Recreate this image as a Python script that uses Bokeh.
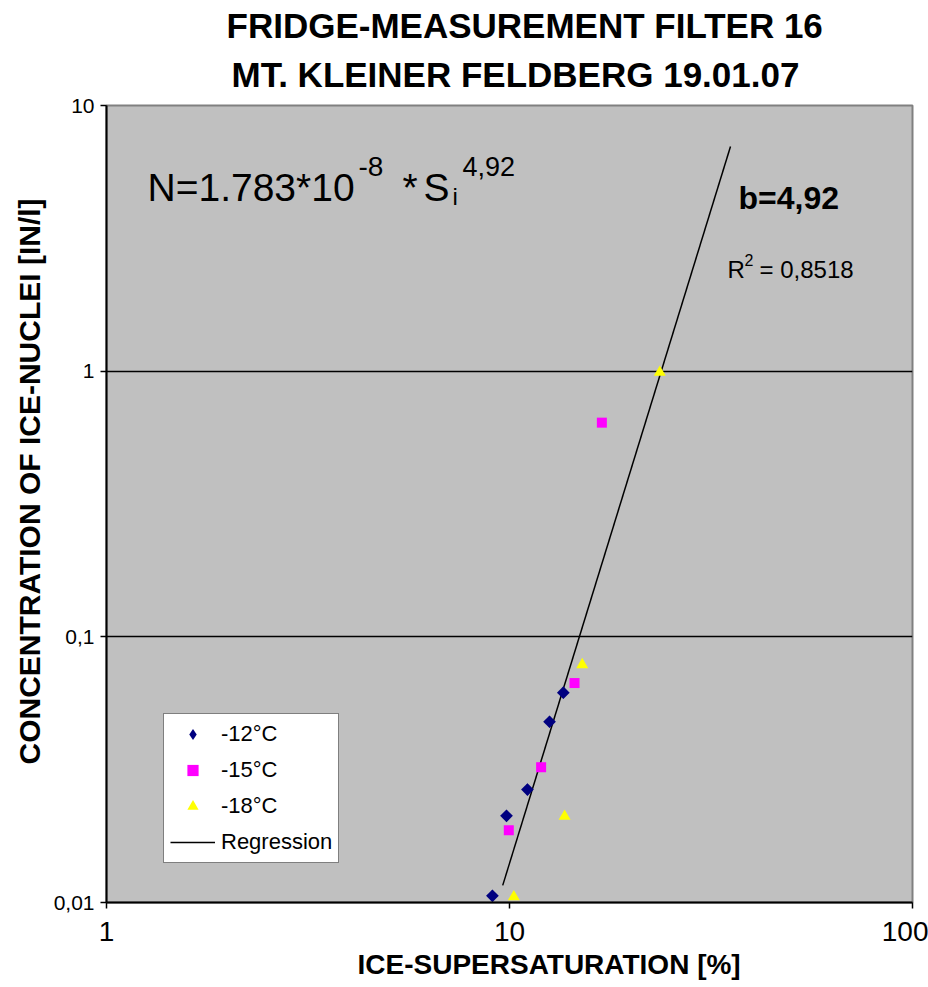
import numpy as np
from bokeh.plotting import figure
from bokeh.models import (Range1d, FixedTicker, CustomJSTickFormatter, Label, Title,
                          Legend, LegendItem)
from bokeh.embed import file_html
from bokeh.resources import INLINE

# ---- data ----
t12_x = [9.07, 9.83, 11.08, 12.57, 13.6]
t12_y = [0.0106, 0.0212, 0.0266, 0.0479, 0.0616]
t15_x = [9.96, 11.98, 14.5, 16.95]
t15_y = [0.0187, 0.0323, 0.067, 0.64]
t18_x = [10.25, 13.7, 15.15, 23.6]
t18_y = [0.0105, 0.0211, 0.0785, 0.99]
reg_x = [9.62, 35.35]
reg_y = [0.0116, 7.01]

x_ticks = [1, 10, 100]
y_ticks = [0.01, 0.1, 1, 10]
y_grid = [0.1, 1]

series_labels = ["-12°C", "-15°C", "-18°C", "Regression"]
title_lines = ["FRIDGE-MEASUREMENT FILTER 16", "MT. KLEINER FELDBERG 19.01.07"]
x_label = "ICE-SUPERSATURATION [%]"
y_label = "CONCENTRATION OF ICE-NUCLEI [IN/l]"

FONT = "Liberation Sans"

p = figure(width=928, height=987, x_axis_type="log", y_axis_type="log",
           x_range=Range1d(1, 100), y_range=Range1d(0.01, 10),
           output_backend="svg", toolbar_location=None,
           min_border_left=106, min_border_right=16, min_border_top=105,
           min_border_bottom=85)
p.title = None
p.background_fill_color = "#C0C0C0"
p.border_fill_color = "white"
p.outline_line_color = "#808080"
p.outline_line_width = 2

fmt = CustomJSTickFormatter(code="return String(tick).replace('.', ',');")
for ax, ticks, fs, so in ((p.xaxis, x_ticks, "28px", 13), (p.yaxis, y_ticks, "21px", 6)):
    ax.ticker = FixedTicker(ticks=ticks, minor_ticks=[])
    ax.formatter = fmt
    ax.major_label_text_font = FONT
    ax.major_label_text_font_size = fs
    ax.major_label_text_color = "black"
    ax.major_label_standoff = so
    ax.axis_line_color = "black"
    ax.axis_line_width = 2
    ax.major_tick_line_color = "black"
    ax.major_tick_line_width = 1.5
    ax.major_tick_in = 0
    ax.major_tick_out = 6

# chart title lines (first added sits closest to the frame)
p.add_layout(Title(text=title_lines[1], text_font=FONT, text_font_size="35px",
                   text_font_style="bold", text_color="black", align="left",
                   offset=125, standoff=23), "above")
p.add_layout(Title(text=title_lines[0], text_font=FONT, text_font_size="35px",
                   text_font_style="bold", text_color="black", align="left",
                   offset=120, standoff=-6), "above")
# axis titles
p.add_layout(Title(text=x_label, text_font=FONT, text_font_size="28px",
                   text_font_style="bold", text_color="black", align="left",
                   offset=251, standoff=6), "below")
p.add_layout(Title(text=y_label, text_font=FONT, text_font_size="30px",
                   text_font_style="bold", text_color="black", align="left",
                   offset=138, standoff=10), "left")

p.xgrid.visible = False
p.ygrid.ticker = FixedTicker(ticks=y_grid, minor_ticks=[])
p.ygrid.grid_line_color = "black"
p.ygrid.grid_line_width = 1.5

# regression line under markers
rr = p.line(reg_x, reg_y, line_color="black", line_width=1.5)
# diamond-shaped key for the legend, hidden under the rotated squares
r12_key = p.scatter(t12_x, t12_y, marker="diamond", size=12,
                    fill_color="#000080", line_color=None)
r12 = p.scatter(t12_x, t12_y, marker="square", angle=np.pi / 4, size=9,
                fill_color="#000080", line_color=None)
r15 = p.scatter(t15_x, t15_y, marker="square", size=10,
                fill_color="#FF00FF", line_color=None)
r18 = p.scatter(t18_x, t18_y, marker="triangle", size=12,
                fill_color="#FFFF00", line_color=None)

legend = Legend(items=[LegendItem(label=series_labels[0], renderers=[r12_key]),
                       LegendItem(label=series_labels[1], renderers=[r15]),
                       LegendItem(label=series_labels[2], renderers=[r18]),
                       LegendItem(label=series_labels[3], renderers=[rr])],
                location=(57, 39), orientation="vertical",
                background_fill_color="white", background_fill_alpha=1.0,
                border_line_color="black", border_line_width=1,
                label_text_font=FONT, label_text_font_size="22px",
                label_text_color="black",
                glyph_width=45, glyph_height=28, label_height=28,
                spacing=8, padding=6, margin=0, label_standoff=6)
p.add_layout(legend)

# equation annotation
fx, fy = 1.264, 4.92
eq_parts = [("N=1.783*10", 0, 0, "39px"), ("-8", 211, 21, "28px"),
            ("*", 255, 0, "39px"), ("S", 276, 0, "39px"),
            ("i", 305, -9, "24px"), ("4,92", 315, 21, "27px")]
for txt, dx, dy, fs in eq_parts:
    p.add_layout(Label(x=fx, y=fy, x_offset=dx, y_offset=dy, text=txt,
                       text_font=FONT, text_font_size=fs, text_color="black",
                       text_baseline="alphabetic"))

p.add_layout(Label(x=37.0, y=4.47, text="b=4,92", text_font=FONT,
                   text_font_size="32px", text_font_style="bold",
                   text_color="black", text_baseline="alphabetic"))
rx, ry = 34.75, 2.42
for txt, dx, dy, fs in (("R", 0, 0, "24px"), ("2", 17, 9, "16px"),
                        ("= 0,8518", 32, 0, "24px")):
    p.add_layout(Label(x=rx, y=ry, x_offset=dx, y_offset=dy, text=txt,
                       text_font=FONT, text_font_size=fs, text_color="black",
                       text_baseline="alphabetic"))

open("out.html", "w").write(file_html(p, INLINE))
